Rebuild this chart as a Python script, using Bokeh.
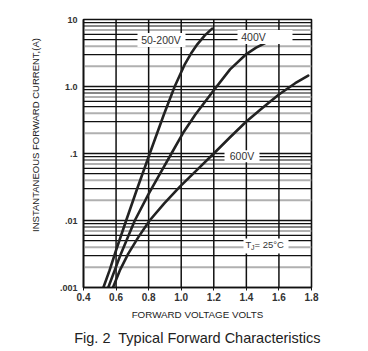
import math
from bokeh.plotting import figure
from bokeh.models import FixedTicker, Span, Label, BoxAnnotation, Title, ColumnDataSource
from bokeh.embed import file_html
from bokeh.resources import INLINE

# ---- data ----
v_50_200 = [0.522, 0.56, 0.60, 0.662, 0.73, 0.807, 0.893, 0.96, 1.02, 1.06, 1.10, 1.145, 1.19]
i_50_200 = [0.001, 0.0018, 0.0036, 0.01, 0.03, 0.1, 0.378, 1.0, 2.1, 3.1, 4.3, 5.8, 7.3]

v_400 = [0.552, 0.63, 0.715, 0.80, 0.87, 0.94, 1.01, 1.086, 1.2, 1.3, 1.4, 1.46, 1.515]
i_400 = [0.001, 0.0032, 0.01, 0.025, 0.05, 0.1, 0.2, 0.378, 0.88, 1.8, 3.05, 3.8, 4.45]

v_600 = [0.581, 0.623, 0.675, 0.736, 0.806, 0.896, 0.992, 1.094, 1.2, 1.3, 1.4, 1.5, 1.6, 1.7, 1.78]
i_600 = [0.001, 0.0018, 0.0032, 0.0056, 0.01, 0.018, 0.032, 0.056, 0.1, 0.175, 0.30, 0.48, 0.76, 1.12, 1.45]

x_ticks = [0.4, 0.6, 0.8, 1.0, 1.2, 1.4, 1.6, 1.8]
x_tick_labels = ["0.4", "0.6", "0.8", "1.0", "1.2", "1.4", "1.6", "1.8"]
y_ticks = [0.001, 0.01, 0.1, 1.0, 10.0]
y_tick_labels = [".001", ".01", ".1", "1.0", "10"]
decades = [0.001, 0.01, 0.1, 1.0]
black_mant = [3, 5, 6, 8, 9]
gray_mant = [2, 4, 7]

FONT = "Liberation Sans"

p = figure(width=368, height=351, x_range=(0.4, 1.8), y_range=(0.001, 10),
           y_axis_type="log", output_backend="svg", toolbar_location=None,
           min_border_left=83, min_border_right=57, min_border_top=19, min_border_bottom=64)
p.background_fill_color = "white"
p.border_fill_color = "white"
p.outline_line_color = "#111111"
p.outline_line_width = 1.6
p.xgrid.visible = False
p.ygrid.visible = False

# grid
for d in decades:
    for m in gray_mant:
        p.add_layout(Span(location=d * m, dimension="width", line_color="#b0b0b0",
                          line_width=2, level="underlay"))
    for m in black_mant:
        p.add_layout(Span(location=d * m, dimension="width", line_color="#111111",
                          line_width=1.2, level="underlay"))
for d in decades[1:]:
    p.add_layout(Span(location=d, dimension="width", line_color="#111111",
                      line_width=1.5, level="underlay"))
for xv in x_ticks[1:-1]:
    p.add_layout(Span(location=xv, dimension="height", line_color="#111111",
                      line_width=1.5, level="underlay"))

# curves
for vv, ii in [(v_50_200, i_50_200), (v_400, i_400), (v_600, i_600)]:
    src = ColumnDataSource(dict(v=vv, i=ii))
    p.line("v", "i", source=src, line_color="#222222", line_width=2.6, line_cap="round",
           line_join="round")

# axes
p.xaxis.ticker = FixedTicker(ticks=x_ticks)
p.xaxis.major_label_overrides = {t: s for t, s in zip(x_ticks, x_tick_labels)}
p.yaxis.ticker = FixedTicker(ticks=y_ticks)
p.yaxis.major_label_overrides = {t: s for t, s in zip(y_ticks, y_tick_labels)}
p.xaxis.minor_tick_line_color = None
p.yaxis.minor_tick_line_color = None
p.xaxis.major_tick_out = 3
p.xaxis.major_tick_in = 0
p.xaxis.major_tick_line_color = "#111111"
p.yaxis.major_tick_out = 0
p.yaxis.major_tick_in = 0
p.xaxis.major_label_standoff = 2
p.yaxis.major_label_standoff = 6
for ax in (p.xaxis, p.yaxis):
    ax.axis_line_color = "#111111"
    ax.axis_line_width = 1.6
    ax.major_label_text_font = FONT
    ax.major_label_text_font_style = "bold"
    ax.major_label_text_color = "#333333"
    ax.axis_label_text_font = FONT
    ax.axis_label_text_font_style = "normal"
    ax.axis_label_text_color = "#222222"
p.xaxis.major_label_text_font_size = "10px"
p.yaxis.major_label_text_font_size = "9px"
p.xaxis.axis_label = "FORWARD VOLTAGE VOLTS"
p.xaxis.axis_label_text_font_size = "9.8px"
p.xaxis.axis_label_standoff = 5
p.yaxis.axis_label = "\u00a0" * 14 + "INSTANTANEOUS FORWARD CURRENT,(A)"
p.yaxis.axis_label_text_font_size = "9.5px"
p.yaxis.axis_label_standoff = 16

p.add_layout(Title(text="Fig. 2\u00a0 Typical Forward Characteristics", align="center",
                   text_font=FONT, text_font_size="14.5px", text_font_style="normal",
                   text_color="#222222"), "below")

# label boxes
boxes = [(0.7316, 1.0263, 3.88, 6.28), (1.3456, 1.6833, 4.31, 6.97),
         (1.2658, 1.4807, 0.0740, 0.112), (1.3825, 1.6588, 0.00323, 0.00541)]
for l, r, b, t in boxes:
    p.add_layout(BoxAnnotation(left=l, right=r, bottom=b, top=t, fill_color="white",
                               fill_alpha=1, line_alpha=0))

for x, y, txt in [(0.876, 5.0, "50-200V"), (1.4439, 5.47, "400V"), (1.3732, 0.0910, "600V")]:
    p.add_layout(Label(x=x, y=y, text=txt, text_align="center", text_baseline="middle",
                       text_font=FONT, text_font_size="10.5px", text_color="#333333"))

p.add_layout(Label(x=1.3947, y=0.0044, text="T", text_align="left", text_baseline="middle",
                   text_font=FONT, text_font_size="9.5px", text_color="#333333"))
p.add_layout(Label(x=1.3947, y=0.0044, x_offset=5.5, y_offset=-3, text="J", text_align="left",
                   text_baseline="middle", text_font=FONT, text_font_size="7px",
                   text_color="#333333"))
p.add_layout(Label(x=1.3947, y=0.0044, x_offset=9, text="= 25°C", text_align="left",
                   text_baseline="middle", text_font=FONT, text_font_size="9.5px",
                   text_color="#333333"))

open("out.html", "w").write(file_html(p, INLINE))
